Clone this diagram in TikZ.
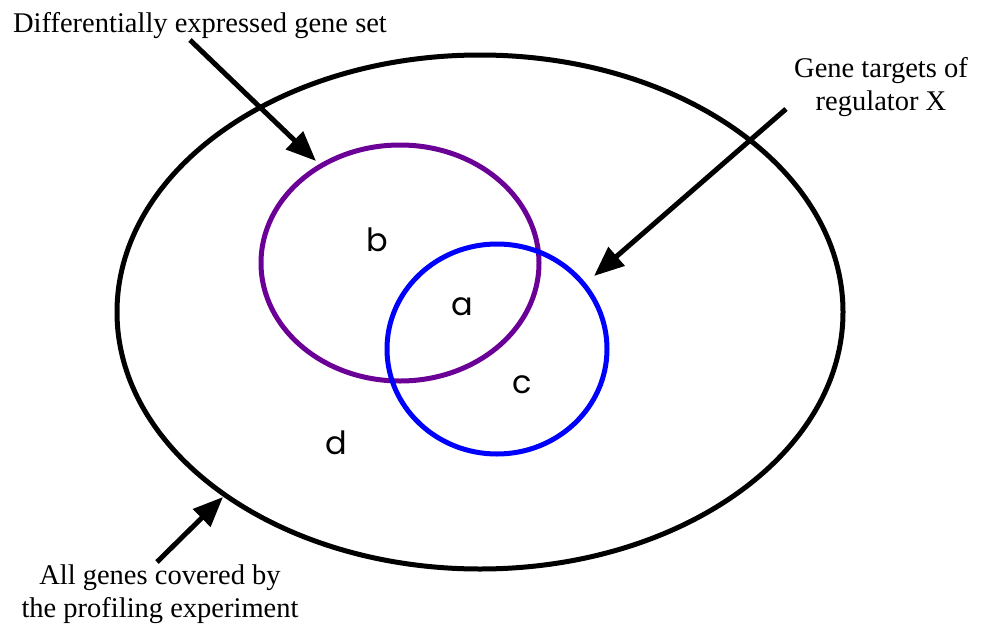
\documentclass[tikz,border=0pt]{standalone}
\usepackage{fontspec}
\setmainfont{Liberation Serif}
\newfontfamily\lettersfont{Poppins}
\usetikzlibrary{arrows.meta}
\definecolor{setpurple}{RGB}{106,0,150}
\definecolor{setblue}{RGB}{0,0,255}
\tikzset{
  setline/.style={line width=5pt},
  pointer/.style={line width=5pt, -{Triangle[length=30pt,width=24pt]}},
  caption/.style={inner sep=0pt, font=\fontsize{28.5}{33}\selectfont, align=center},
  region/.style={inner sep=0pt, font=\lettersfont\fontsize{32}{36}\selectfont},
}
\begin{document}
\begin{tikzpicture}[x=1pt,y=-1pt]
\useasboundingbox (0,0) rectangle (985,624);
% sets
\coordinate (all) at (480,312);
\coordinate (deg) at (400,263);
\coordinate (tgt) at (497,349);
\draw[setline, black] (all) ellipse [x radius=363, y radius=257];
\draw[setline, setpurple] (deg) ellipse [x radius=139, y radius=118];
\draw[setline, setblue] (tgt) ellipse [x radius=110, y radius=105];
% region letters
\node[region] (b) at (377,240) {b};
\node[region] (a) at (462,307) {a};
\node[region] (c) at (522,385) {c};
\node[region] (d) at (336,443) {d};
% captions
\node[caption, anchor=base] (degl) at (200,32) {Differentially expressed gene set};
\node[caption, anchor=north] (tgtl) at (881,57) {Gene targets of\\regulator X};
\node[caption, anchor=north] (alll) at (160,565) {All genes covered by\\the profiling experiment};
% arrows
\coordinate (s1) at (190,40);
\coordinate (t1) at (316,161);
\coordinate (s2) at (786,109);
\coordinate (t2) at (594,276);
\coordinate (s3) at (157,562);
\coordinate (t3) at (223,497);
\draw[pointer] (s1) -- (t1);
\draw[pointer] (s2) -- (t2);
\draw[pointer] (s3) -- (t3);
\end{tikzpicture}
\end{document}
